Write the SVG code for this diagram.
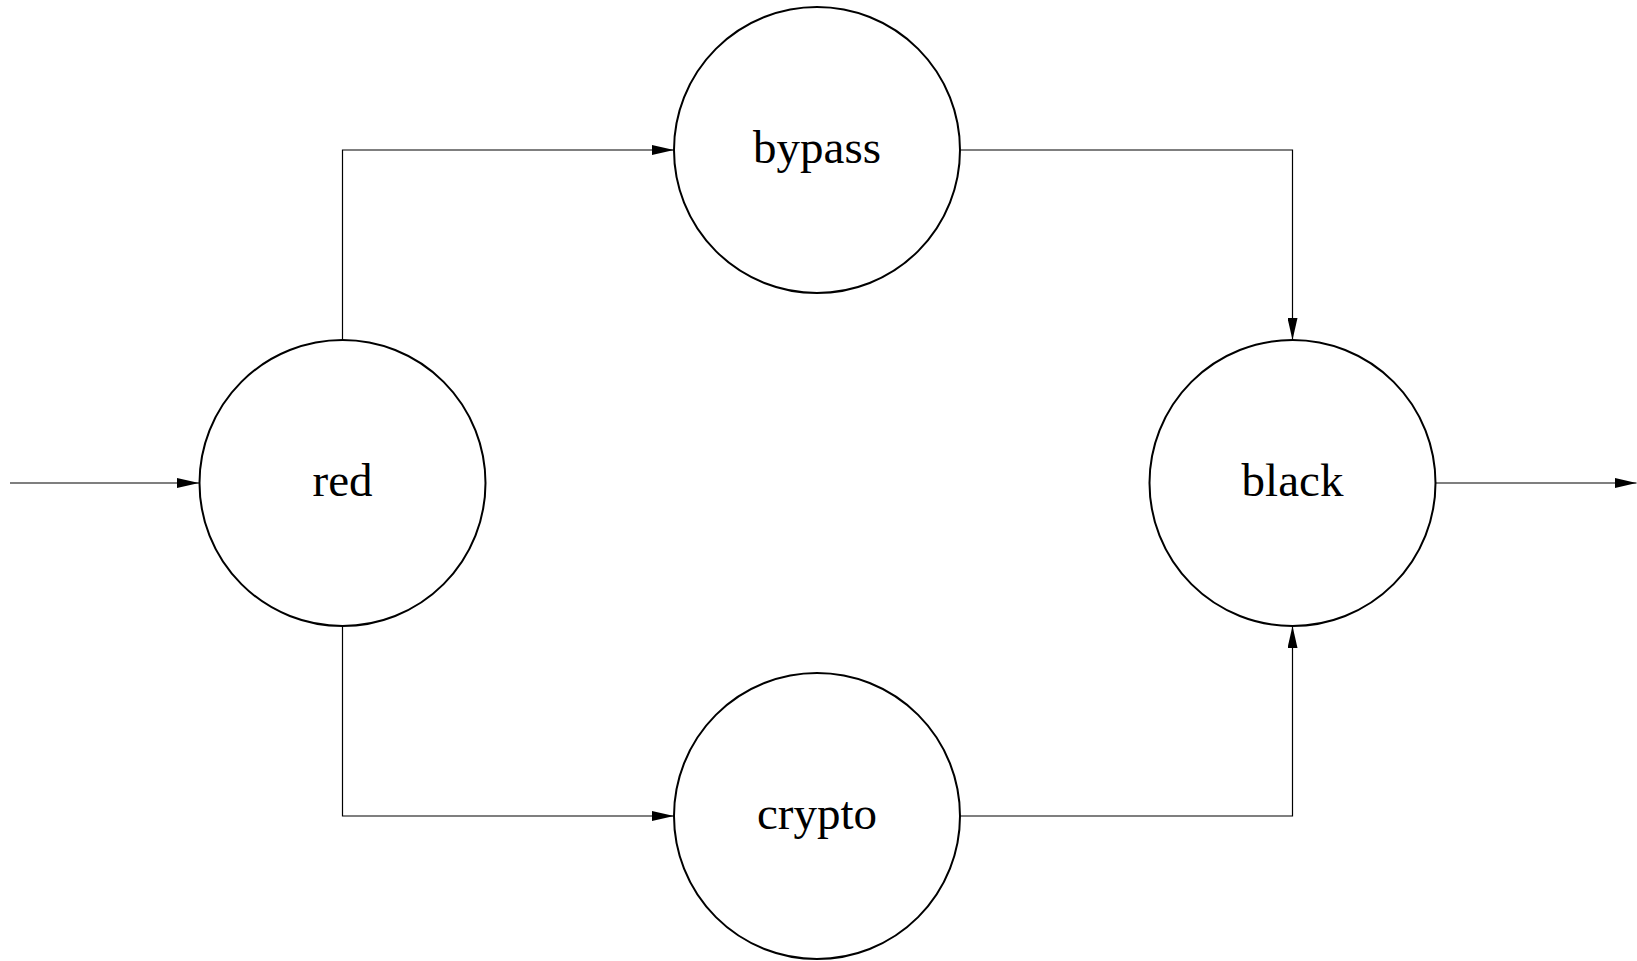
<svg xmlns="http://www.w3.org/2000/svg" width="1637" height="961" viewBox="0 0 1637 961">
  <style>
    .node circle { fill: #ffffff; stroke: #000000; stroke-width: 2; }
    .node text { font-family: "Liberation Serif", "Times New Roman", serif; font-size: 47px; fill: #000000; text-anchor: middle; }
    .edge { fill: none; stroke: #000000; stroke-width: 1.2; }
  </style>
  <defs>
    <marker id="arrow" viewBox="0 0 22 10" refX="22" refY="5" markerWidth="22" markerHeight="10" markerUnits="userSpaceOnUse" orient="auto">
      <path d="M0,0 L22,5 L0,10 Z" fill="#000000"/>
    </marker>
  </defs>
  <rect width="1637" height="961" fill="#ffffff"/>

  <g id="connectors">
    <path class="edge" d="M10,483 L199,483" marker-end="url(#arrow)"/>
    <path class="edge" d="M342.5,340 L342.5,150 L674,150" marker-end="url(#arrow)"/>
    <path class="edge" d="M960,150 L1292.5,150 L1292.5,340" marker-end="url(#arrow)"/>
    <path class="edge" d="M342.5,626 L342.5,816 L674,816" marker-end="url(#arrow)"/>
    <path class="edge" d="M960,816 L1292.5,816 L1292.5,626" marker-end="url(#arrow)"/>
    <path class="edge" d="M1436,483 L1636.5,483" marker-end="url(#arrow)"/>
  </g>

  <g id="node-red" class="node">
    <circle cx="342.5" cy="483" r="143"/>
    <text x="342.5" y="496">red</text>
  </g>
  <g id="node-bypass" class="node">
    <circle cx="817" cy="150" r="143"/>
    <text x="817" y="163">bypass</text>
  </g>
  <g id="node-crypto" class="node">
    <circle cx="817" cy="816" r="143"/>
    <text x="817" y="829">crypto</text>
  </g>
  <g id="node-black" class="node">
    <circle cx="1292.5" cy="483" r="143"/>
    <text x="1292.5" y="496">black</text>
  </g>
</svg>
